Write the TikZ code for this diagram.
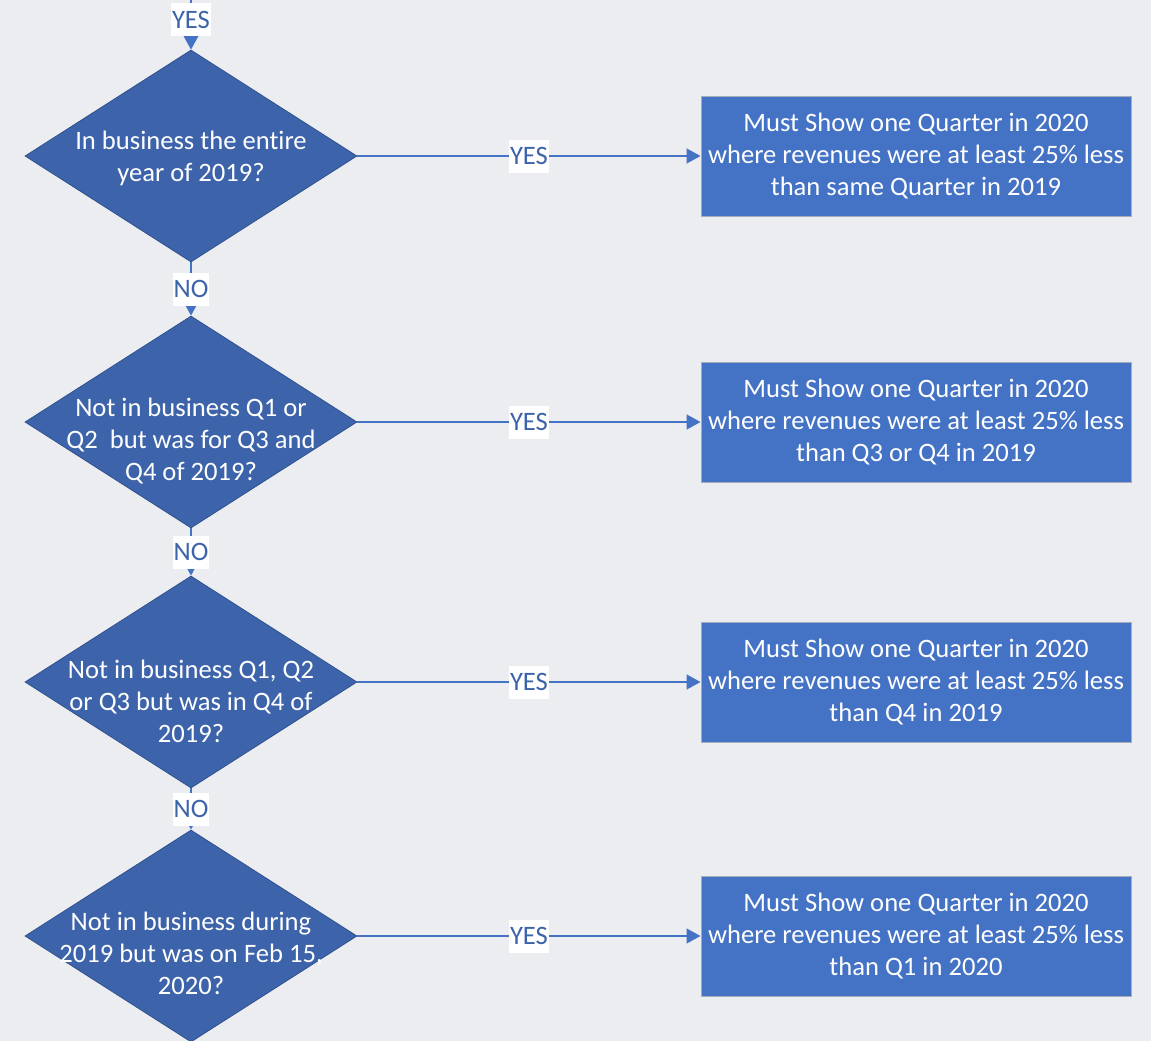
\documentclass[tikz,border=0pt]{standalone}
\usepackage{fontspec}
\setmainfont{Carlito}[Ligatures={NoCommon}]
\usetikzlibrary{shapes.geometric,arrows.meta}
\definecolor{bgcol}{RGB}{236,237,241}
\definecolor{decblue}{RGB}{61,99,170}
\definecolor{decedge}{RGB}{47,82,143}
\definecolor{boxblue}{RGB}{68,114,196}
\definecolor{boxedge}{RGB}{165,172,186}
\begin{document}
\begin{tikzpicture}[x=1pt,y=-1pt,
    dec/.style={diamond, fill=decblue, draw=decedge, line width=0.8pt,
        minimum width=332pt, minimum height=212pt, inner sep=0pt},
    dectext/.style={text=white, font=\fontsize{26.6}{32}\selectfont, align=center},
    result/.style={rectangle, fill=boxblue, draw=boxedge, line width=1pt,
        minimum width=430pt, minimum height=120pt, text=white,
        font=\fontsize{26.6}{32}\selectfont, align=center},
    lbl/.style={fill=white, text=decblue, font=\fontsize{26.6}{32}\selectfont,
        inner xsep=1pt, inner ysep=0pt, minimum height=33pt},
    link/.style={draw=boxblue, line width=1.5pt, -{Triangle[length=14pt,width=15pt]}}]
    % Background
    \useasboundingbox (0,0) rectangle (1151,1041);
    \fill[bgcol] (0,0) rectangle (1151,1041);

    % Decisions
    \node[dec] (q1) at (191,156) {};
    \node[dec] (q2) at (191,422) {};
    \node[dec] (q3) at (191,682) {};
    \node[dec] (q4) at (191,936) {};
    \node[dectext] (q1t) at (191,158) {In business the entire\\year of 2019?};
    \node[dectext] (q2t) at (191,441) {Not in business Q1 or\\Q2~ but was for Q3 and\\Q4 of 2019?};
    \node[dectext] (q3t) at (191,701) {Not in business Q1, Q2\\or Q3 but was in Q4 of\\2019?};
    \node[dectext] (q4t) at (191,953) {Not in business during\\2019 but was on Feb 15,\\2020?};

    % Results
    \node[result] (r1) at (916,156) {Must Show one Quarter in 2020\\where revenues were at least 25\% less\\than same Quarter in 2019};
    \node[result] (r2) at (916,422) {Must Show one Quarter in 2020\\where revenues were at least 25\% less\\than Q3 or Q4 in 2019};
    \node[result] (r3) at (916,682) {Must Show one Quarter in 2020\\where revenues were at least 25\% less\\than Q4 in 2019};
    \node[result] (r4) at (916,936) {Must Show one Quarter in 2020\\where revenues were at least 25\% less\\than Q1 in 2020};

    % Links
    \coordinate (start) at (191,-10);
    \draw[link] (start) -- node[lbl] {YES} (q1.north);
    \draw[link] (q1.south) -- node[lbl] {NO} (q2.north);
    \draw[link] (q2.south) -- node[lbl] {NO} (q3.north);
    \draw[link] (q3.south) -- node[lbl] {NO} (q4.north);
    \draw[link] (q1.east) -- node[lbl] {YES} (r1.west);
    \draw[link] (q2.east) -- node[lbl] {YES} (r2.west);
    \draw[link] (q3.east) -- node[lbl] {YES} (r3.west);
    \draw[link] (q4.east) -- node[lbl] {YES} (r4.west);
\end{tikzpicture}
\end{document}
